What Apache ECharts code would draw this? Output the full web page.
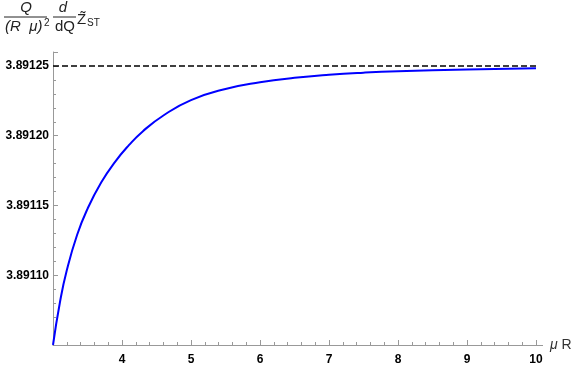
<!DOCTYPE html>
<html>
<head>
<meta charset="utf-8">
<script src="https://cdn.jsdelivr.net/npm/echarts@6/dist/echarts.min.js"></script>
<style>
  html, body { margin: 0; padding: 0; background: #fff; }
  #chart { width: 581px; height: 366px; }
</style>
</head>
<body>
<div id="chart"></div>
<script>
// curve
var muR = [3, 3.1, 3.2, 3.35, 3.5, 3.7, 3.9, 4.1, 4.3, 4.6, 5, 5.5, 6, 6.5, 7, 7.5, 8, 9, 10];
var zDeriv = [3.89105, 3.8910805, 3.8911035, 3.891129, 3.8911476, 3.8911666, 3.8911813, 3.8911932, 3.8912031, 3.8912145,
  3.8912255, 3.8912335, 3.8912383, 3.8912415, 3.8912437, 3.8912452, 3.8912462, 3.8912474, 3.8912483];
// asymptote (dashed)
var asymX = [3, 10];
var asymY = [3.89125, 3.89125];
// tick labels
var xTicks = [4, 5, 6, 7, 8, 9, 10];
var yTicks = [3.8911, 3.89115, 3.8912, 3.89125];

var chart = echarts.init(document.getElementById('chart'), null, { renderer: 'canvas' });

var font = "'Liberation Sans', Arial, sans-serif";
var axisGray = '#999999';

function inList(list, v, eps) {
  for (var k = 0; k < list.length; k++) {
    if (Math.abs(list[k] - v) < eps) return true;
  }
  return false;
}

var option = {
  animation: false,
  backgroundColor: '#ffffff',
  grid: { left: 53, right: 45, top: 52, bottom: 21 },
  xAxis: {
    type: 'value',
    min: 3,
    max: 10,
    interval: 1,
    name: '{i|μ} R',
    nameLocation: 'end',
    nameGap: 14,
    nameTextStyle: {
      fontFamily: font, fontSize: 14, color: '#333',
      rich: { i: { fontFamily: font, fontSize: 14, fontStyle: 'italic', color: '#333' } }
    },
    axisLine: { show: true, onZero: false, lineStyle: { color: axisGray, width: 1 } },
    axisTick: { show: true, inside: true, length: 5, lineStyle: { color: axisGray, width: 1 } },
    minorTick: { show: true, splitNumber: 5, length: 3, lineStyle: { color: axisGray, width: 1 } },
    splitLine: { show: false },
    axisLabel: {
      margin: 9,
      fontFamily: font, fontSize: 12, fontWeight: 'bold', color: '#000',
      formatter: function (v) { return inList(xTicks, v, 1e-6) ? String(v) : ''; }
    }
  },
  yAxis: [{
    type: 'value',
    position: 'left',
    min: 3.89105,
    max: 3.89126,
    interval: 0.00005,
    axisLine: { show: true, onZero: false, lineStyle: { color: axisGray, width: 1 } },
    axisTick: { show: true, inside: true, length: 5, lineStyle: { color: axisGray, width: 1 } },
    splitLine: { show: false },
    axisLabel: {
      margin: 4,
      fontFamily: font, fontSize: 12, fontWeight: 'bold', color: '#000',
      formatter: function (v) { return inList(yTicks, v, 1e-9) ? v.toFixed(5) : ''; }
    }
  }, {
    // minor ticks only
    type: 'value',
    position: 'left',
    min: 3.89105,
    max: 3.89126,
    interval: 0.00001,
    axisLine: { show: false, onZero: false },
    axisTick: { show: true, inside: true, length: 3, lineStyle: { color: axisGray, width: 1 } },
    axisLabel: { show: false },
    splitLine: { show: false }
  }],
  series: [
    {
      type: 'line',
      data: asymX.map(function (x, i) { return [x, asymY[i]]; }),
      showSymbol: false,
      lineStyle: { color: '#000', width: 1.6, type: [6, 3] },
      z: 2
    },
    {
      type: 'line',
      data: muR.map(function (x, i) { return [x, zDeriv[i]]; }),
      showSymbol: false,
      smooth: 0.5,
      lineStyle: { color: '#0000ff', width: 2 },
      z: 3
    }
  ],
  graphic: [
    // x axis line runs a little past 10
    { type: 'line', shape: { x1: 536, y1: 345.5, x2: 543, y2: 345.5 }, style: { stroke: axisGray, lineWidth: 1 } },
    // first fraction  Q / (R mu)^2
    { type: 'text', x: 26, y: 8, style: { text: 'Q', font: 'italic 15px ' + font, fill: '#222', align: 'center', verticalAlign: 'middle' } },
    { type: 'line', shape: { x1: 4, y1: 17, x2: 47, y2: 17 }, style: { stroke: '#222', lineWidth: 1 } },
    { type: 'text', x: 5, y: 27, style: { text: '(R  μ)', font: 'italic 15px ' + font, fill: '#222', verticalAlign: 'middle' } },
    { type: 'text', x: 44, y: 23, style: { text: '2', font: '10px ' + font, fill: '#222', verticalAlign: 'middle' } },
    // second fraction  d / dQ
    { type: 'text', x: 63, y: 8, style: { text: 'd', font: 'italic 15px ' + font, fill: '#222', align: 'center', verticalAlign: 'middle' } },
    { type: 'line', shape: { x1: 53, y1: 17, x2: 76, y2: 17 }, style: { stroke: '#222', lineWidth: 1 } },
    { type: 'text', x: 65, y: 27, style: { text: 'dQ', font: '15px ' + font, fill: '#222', align: 'center', verticalAlign: 'middle' } },
    // Z tilde with subscript ST
    { type: 'text', x: 77, y: 20, style: { text: 'Z\u0303', font: '15px ' + font, fill: '#222', verticalAlign: 'middle' } },
    { type: 'text', x: 87, y: 23, style: { text: 'ST', font: '10px ' + font, fill: '#222', verticalAlign: 'middle' } }
  ]
};

chart.setOption(option);
</script>
</body>
</html>
